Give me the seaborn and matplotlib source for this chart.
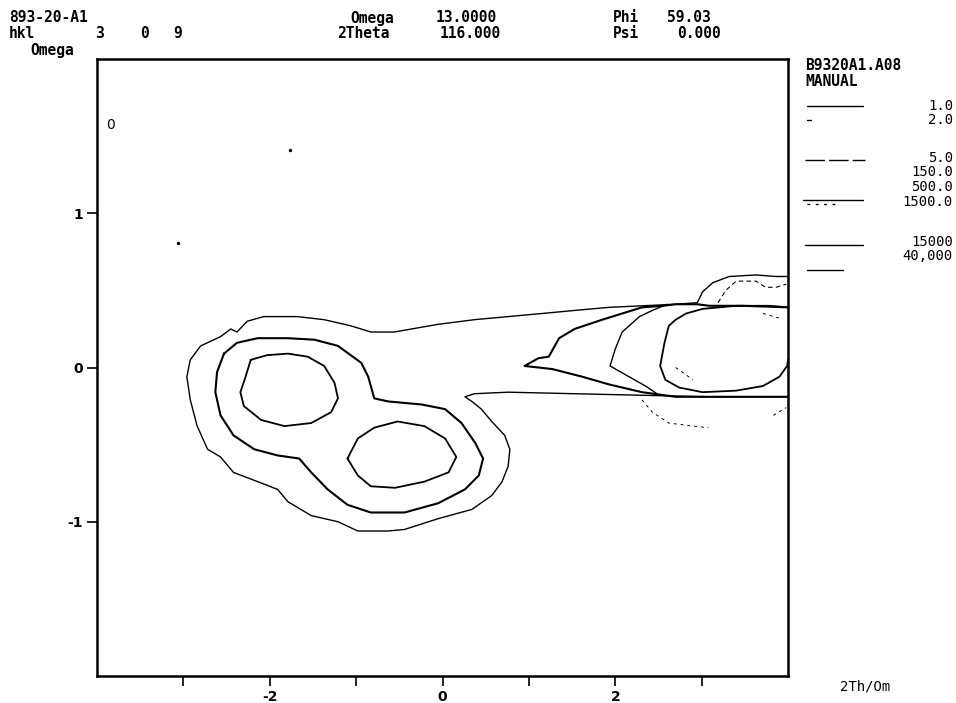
import matplotlib.pyplot as plt
import seaborn as sns

# contour paths (x = 2Th/Om, y = Omega)
outer_x = [4.0, 3.09, 2.31, 1.53, 0.76, 0.37, 0.26, 0.34, 0.45, 0.57, 0.72, 0.78, 0.76, 0.69, 0.57, 0.34,
           -0.05, -0.44, -0.63, -0.98, -1.21, -1.52, -1.79, -1.91, -2.14, -2.42, -2.57, -2.72, -2.84, -2.92,
           -2.96, -2.92, -2.80, -2.57, -2.45, -2.38, -2.26, -2.07, -1.68, -1.37, -1.06, -0.83, -0.56, -0.05,
           0.37, 0.76, 1.15, 1.53, 1.93, 2.31, 2.70, 2.95, 3.01, 3.13, 3.32, 3.63, 3.86, 4.0]
outer_y = [-0.19, -0.19, -0.18, -0.17, -0.16, -0.17, -0.19, -0.22, -0.27, -0.35, -0.44, -0.53, -0.64, -0.74, -0.83, -0.92,
           -0.98, -1.05, -1.06, -1.06, -1.00, -0.96, -0.87, -0.79, -0.74, -0.68, -0.58, -0.53, -0.38, -0.21,
           -0.06, 0.05, 0.14, 0.20, 0.25, 0.23, 0.30, 0.33, 0.33, 0.31, 0.27, 0.23, 0.23, 0.28,
           0.31, 0.33, 0.35, 0.37, 0.39, 0.40, 0.41, 0.42, 0.49, 0.55, 0.59, 0.60, 0.59, 0.59]

eight_x = [-2.53, -2.38, -2.14, -1.79, -1.48, -1.21, -0.94, -0.86, -0.79, -0.63, -0.24, 0.03, 0.22, 0.38, 0.47, 0.42,
           0.26, -0.05, -0.44, -0.83, -1.10, -1.33, -1.52, -1.66, -1.91, -2.18, -2.42, -2.57, -2.63, -2.61, -2.53]
eight_y = [0.09, 0.16, 0.19, 0.19, 0.18, 0.14, 0.03, -0.06, -0.20, -0.22, -0.24, -0.27, -0.36, -0.49, -0.59, -0.70,
           -0.79, -0.88, -0.94, -0.94, -0.89, -0.79, -0.68, -0.59, -0.57, -0.53, -0.44, -0.31, -0.16, -0.03, 0.09]

peak1_x = [-2.22, -2.03, -1.79, -1.56, -1.37, -1.25, -1.21, -1.29, -1.52, -1.83, -2.10, -2.30, -2.34, -2.28, -2.22]
peak1_y = [0.05, 0.08, 0.09, 0.07, 0.01, -0.10, -0.20, -0.29, -0.36, -0.38, -0.34, -0.25, -0.16, -0.06, 0.05]

peak2_x = [-1.10, -0.98, -0.79, -0.52, -0.21, 0.03, 0.16, 0.07, -0.21, -0.55, -0.83, -0.98, -1.10]
peak2_y = [-0.59, -0.46, -0.39, -0.35, -0.38, -0.46, -0.58, -0.68, -0.74, -0.78, -0.77, -0.70, -0.59]

tongue_x = [4.0, 3.48, 3.09, 2.95, 2.70, 2.55, 2.31, 2.08, 1.85, 1.53, 1.35, 1.23, 1.11, 0.95,
            1.27, 1.62, 1.93, 2.31, 2.70, 4.0]
tongue_y = [0.39, 0.40, 0.40, 0.41, 0.41, 0.40, 0.39, 0.35, 0.31, 0.25, 0.19, 0.07, 0.06, 0.01,
            -0.01, -0.06, -0.11, -0.16, -0.19, -0.19]

inner_x = [2.60, 2.43, 2.28, 2.08, 2.00, 1.94, 2.16, 2.35, 2.51]
inner_y = [0.41, 0.37, 0.33, 0.23, 0.12, 0.01, -0.06, -0.12, -0.18]

oval_x = [4.0, 3.79, 3.40, 3.01, 2.82, 2.70, 2.62, 2.57, 2.52, 2.58, 2.74, 3.01, 3.40, 3.71, 3.90, 3.99, 4.0]
oval_y = [0.39, 0.40, 0.40, 0.38, 0.35, 0.31, 0.27, 0.16, 0.01, -0.08, -0.13, -0.16, -0.15, -0.12, -0.06, 0.01, 0.05]

bump_x = [3.19, 3.28, 3.40, 3.63, 3.74, 3.86, 3.98]
bump_y = [0.42, 0.50, 0.56, 0.56, 0.52, 0.52, 0.54]

low_x = [2.31, 2.43, 2.62, 2.90, 3.08]
low_y = [-0.21, -0.29, -0.36, -0.38, -0.39]

lowr_x = [3.83, 3.98]
lowr_y = [-0.31, -0.26]

dot1_x = [2.70, 2.90]
dot1_y = [0.00, -0.08]

dot2_x = [3.71, 3.90]
dot2_y = [0.35, 0.32]

stray_x = [-1.76, -3.06]
stray_y = [1.41, 0.81]

legend_labels = ["1.0", "2.0", "5.0", "150.0", "500.0", "1500.0", "15000", "40,000"]

W, H = 956, 703


def fx(px):
    return px / W


def fy(py):
    return 1 - py / H


sns.set_theme(style="ticks")
plt.rcParams["font.family"] = ["DejaVu Sans"]
plt.rcParams["text.color"] = "black"
plt.rcParams["xtick.color"] = "black"
plt.rcParams["ytick.color"] = "black"
plt.rcParams["axes.unicode_minus"] = False

fig = plt.figure(figsize=(9.56, 7.03), dpi=100)
ax = fig.add_axes([fx(97), fy(676), (788 - 97) / W, (676 - 59) / H])

paths = [
    (outer_x, outer_y, 1.0, "-"),
    (eight_x, eight_y, 1.5, "-"),
    (peak1_x, peak1_y, 1.3, "-"),
    (peak2_x, peak2_y, 1.3, "-"),
    (tongue_x, tongue_y, 1.5, "-"),
    (inner_x, inner_y, 1.0, "-"),
    (oval_x, oval_y, 1.3, "-"),
    (bump_x, bump_y, 0.8, (0, (4, 3))),
    (low_x, low_y, 0.7, (0, (3, 4))),
    (lowr_x, lowr_y, 0.7, (0, (3, 4))),
    (dot1_x, dot1_y, 0.7, (0, (3, 4))),
    (dot2_x, dot2_y, 0.7, (0, (3, 4))),
]
for xs, ys, lw, ls in paths:
    sns.lineplot(x=xs, y=ys, sort=False, estimator=None, color="black",
                 linewidth=lw, linestyle=ls, ax=ax)

sns.scatterplot(x=stray_x, y=stray_y, color="black", s=6, linewidth=0, ax=ax)
ax.text(-3.84, 1.57, "0", fontsize=10, ha="center", va="center")

ax.set_xlim(-4, 4)
ax.set_ylim(-2, 2)
ax.set_xticks([-2, 0, 2])
ax.set_xticks([-3, -1, 1, 3], minor=True)
ax.set_yticks([-1, 0, 1])
ax.tick_params(axis="both", which="both", direction="out", length=7, width=1.2, color="black")
ax.tick_params(axis="both", labelsize=10, pad=3, labelcolor="black")
for lab in ax.get_xticklabels() + ax.get_yticklabels():
    lab.set_fontweight("bold")
for side in ax.spines.values():
    side.set_linewidth(1.8)
    side.set_color("black")
ax.set_xlabel("")
ax.set_ylabel("")

hdr = dict(family="DejaVu Sans Mono", fontweight="bold", fontsize=10.5, va="center", color="black")
fig.text(fx(9), fy(18), "893-20-A1", **hdr)
fig.text(fx(9), fy(33), "hkl", **hdr)
fig.text(fx(95), fy(33), "3", **hdr)
fig.text(fx(140), fy(33), "0", **hdr)
fig.text(fx(173), fy(33), "9", **hdr)
fig.text(fx(30), fy(51), "Omega", **hdr)
fig.text(fx(350), fy(18), "Omega", **hdr)
fig.text(fx(436), fy(18), "13.0000", **hdr)
fig.text(fx(337), fy(33), "2Theta", **hdr)
fig.text(fx(440), fy(33), "116.000", **hdr)
fig.text(fx(613), fy(18), "Phi", **hdr)
fig.text(fx(667), fy(18), "59.03", **hdr)
fig.text(fx(613), fy(33), "Psi", **hdr)
fig.text(fx(677), fy(33), "0.000", **hdr)
fig.text(fx(805), fy(65), "B9320A1.A08", **hdr)
fig.text(fx(805), fy(82), "MANUAL", **hdr)
fig.text(fx(840), fy(686), "2Th/Om", family="DejaVu Sans Mono", fontsize=10, va="center", color="black")

# legend key drawn in a small pixel-scaled panel at the right
lax = fig.add_axes([fx(795), fy(290), (956 - 795) / W, (290 - 95) / H])
lax.set_xlim(795, 956)
lax.set_ylim(290, 95)
lax.axis("off")
label_y = [106, 120, 158, 172, 187, 202, 242, 256]
key_lines = [
    (807, 863, 106, "-"),
    (807, 811, 120, "-"),
    (805, 865, 160, (0, (14, 3))),
    (803, 863, 200, "-"),
    (807, 840, 204, (0, (2, 4))),
    (805, 863, 245, "-"),
    (807, 843, 270, "-"),
]
for x0, x1, yk, ls in key_lines:
    lax.plot([x0, x1], [yk, yk], color="black", linewidth=1.0, linestyle=ls)
for lab, yl in zip(legend_labels, label_y):
    lax.text(953, yl, lab, ha="right", va="center", fontsize=10, family="DejaVu Sans Mono", color="black")

fig.savefig("out.png", dpi=100, facecolor="white")
